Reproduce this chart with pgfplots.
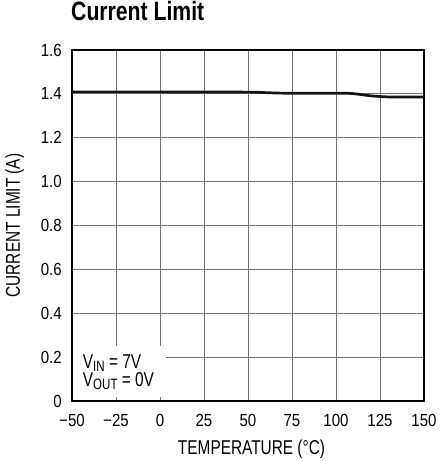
\documentclass[border=0pt]{standalone}
\usepackage{pgfplots}
\pgfplotsset{compat=1.18}
\usepackage{fontspec}
\setmainfont{Liberation Sans}
\newfontfamily\tickfont{Liberation Sans}[FakeStretch=0.86]
\newfontfamily\labfont{Liberation Sans}[FakeStretch=0.77]
\newfontfamily\titfont{Liberation Sans}[FakeStretch=0.8]
\begin{document}
\begin{tikzpicture}
\path[use as bounding box] (-72bp,-60bp) rectangle (368bp,401bp);
\begin{axis}[
  scale only axis, width=352bp, height=351bp,
  at={(0,0)}, anchor=south west,
  xmin=-50, xmax=150, ymin=0, ymax=1.6,
  xtick={-50,-25,0,25,50,75,100,125,150},
  xticklabels={−50,−25,0,25,50,75,100,125,150},
  ytick={0,0.2,0.4,0.6,0.8,1.0,1.2,1.4,1.6},
  yticklabels={0,0.2,0.4,0.6,0.8,1.0,1.2,1.4,1.6},
  grid=major,
  major grid style={black!55, line width=0.9bp},
  axis line style={black, line width=1.2bp},
  major tick length=0pt,
  xticklabel style={font=\tickfont\fontsize{17.5bp}{20bp}\selectfont, anchor=north, inner sep=0pt, yshift=-13bp},
  yticklabel style={font=\tickfont\fontsize{17.5bp}{20bp}\selectfont, anchor=east, inner sep=0pt, xshift=-10bp},
  xlabel={TEMPERATURE (°C)},
  xlabel style={font=\labfont\fontsize{20bp}{24bp}\selectfont, at={(axis description cs:0.51,0)}, anchor=north, inner sep=0pt, yshift=-39bp},
  ylabel={CURRENT LIMIT (A)},
  ylabel style={font=\labfont\fontsize{20bp}{24bp}\selectfont, at={([xshift=-52bp]axis description cs:0,0.5)}, anchor=base, inner sep=0pt},
  title={\bfseries Current Limit},
  title style={font=\titfont\fontsize{26.5bp}{30bp}\selectfont, at={(axis description cs:0,1)}, anchor=base west, inner sep=0pt, yshift=23.3bp, xshift=-1bp},
  clip=false,
]
\fill[white] (axis cs:-49.4,0.018) rectangle (axis cs:3.4,0.251);
\node[anchor=base west, inner sep=0pt, font=\labfont\fontsize{20bp}{24bp}\selectfont] at (axis cs:-43.9,0.148) {V\raisebox{-3bp}{\fontsize{15bp}{18bp}\selectfont IN} = 7V};
\node[anchor=base west, inner sep=0pt, font=\labfont\fontsize{20bp}{24bp}\selectfont] at (axis cs:-43.9,0.064) {V\raisebox{-3bp}{\fontsize{15bp}{18bp}\selectfont OUT} = 0V};
\addplot[black!92, line width=2.7bp, smooth, tension=0.3] coordinates {
(-50,1.409) (0,1.409) (50,1.408) (56,1.407) (62,1.405) (68,1.4035) (75,1.403) (90,1.403) (105,1.403) (110,1.401) (115,1.396) (120,1.391) (125,1.388) (130,1.386) (140,1.386) (150,1.386)
};
\end{axis}
\end{tikzpicture}
\end{document}
